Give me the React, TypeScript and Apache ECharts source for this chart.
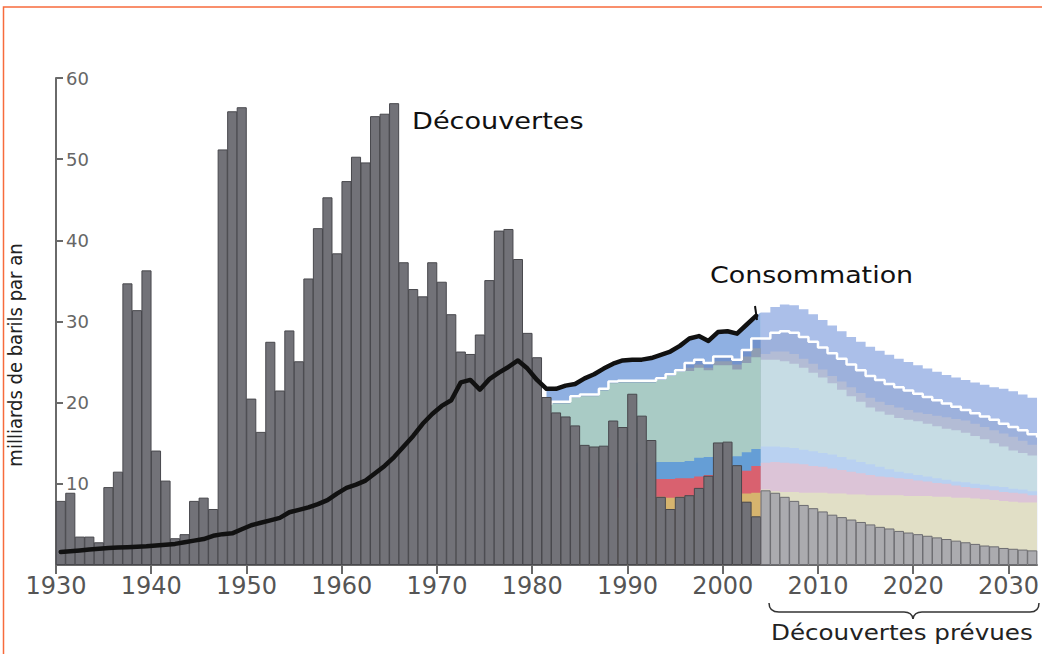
import React, { useEffect, useRef } from 'react';
import * as echarts from 'echarts';

// ---------- data ----------
const FIRST_YEAR = 1930;
// discoveries, billions of barrels per year, 1930-2003
const discoveries = [
  7.9, 8.9, 3.5, 3.5, 2.8, 9.6, 11.5, 34.7, 31.4, 36.3,
  14.1, 10.4, 3.3, 3.8, 7.9, 8.3, 6.9, 51.2, 55.9, 56.4,
  20.5, 16.4, 27.5, 21.5, 28.9, 25.1, 35.3, 41.5, 45.3, 38.4,
  47.3, 50.3, 49.6, 55.3, 55.6, 56.9, 37.3, 34.0, 33.1, 37.3,
  34.9, 30.9, 26.3, 26.0, 28.4, 35.1, 41.2, 41.4, 37.7, 28.6,
  25.6, 20.7, 18.8, 18.3, 17.2, 14.8, 14.6, 14.7, 17.8, 17.0,
  21.1, 18.4, 15.4, 8.4, 6.9, 8.4, 8.6, 9.5, 11.0, 15.1,
  15.2, 12.3, 7.8, 6.0,
];
const PROJ_FIRST_YEAR = 2004;
// expected discoveries 2004-2032
const projectedDiscoveries = [
  9.2, 8.9, 8.4, 7.9, 7.4, 7.0, 6.6, 6.2, 5.9, 5.6,
  5.3, 5.0, 4.7, 4.5, 4.2, 4.0, 3.8, 3.6, 3.4, 3.2,
  3.0, 2.8, 2.6, 2.4, 2.3, 2.1, 2.0, 1.9, 1.8,
];
// consumption 1930-2003
const consumption = [
  1.6, 1.7, 1.8, 1.9, 2.0, 2.1, 2.15, 2.2, 2.25, 2.3,
  2.4, 2.5, 2.6, 2.8, 3.0, 3.2, 3.6, 3.8, 3.9, 4.4,
  4.9, 5.2, 5.5, 5.8, 6.5, 6.8, 7.1, 7.5, 8.0, 8.8,
  9.5, 9.9, 10.4, 11.3, 12.2, 13.3, 14.6, 15.9, 17.4, 18.6,
  19.6, 20.3, 22.5, 22.8, 21.6, 22.9, 23.7, 24.4, 25.2, 24.2,
  22.8, 21.7, 21.7, 22.1, 22.3, 23.0, 23.5, 24.2, 24.8, 25.2,
  25.3, 25.3, 25.5, 25.9, 26.3, 27.0, 27.9, 28.2, 27.6, 28.7,
  28.8, 28.5, 29.6, 30.7,
];

// production layers (cumulative tops), 1981-2003
const LAYER_FIRST_YEAR = 1981;
const histWhite = [19.8, 20.1, 20.1, 20.8, 21.0, 21.0, 21.7, 22.6, 22.7, 22.7, 22.7, 22.7, 23.0, 23.5, 24.0, 24.9, 25.3, 24.9, 25.7, 25.7, 25.3, 26.5, 27.9];
const histGrayTop = [19.6, 19.9, 19.9, 20.6, 20.8, 20.8, 21.5, 22.4, 22.5, 22.5, 22.5, 22.5, 22.8, 23.3, 23.8, 24.3, 24.7, 24.3, 25.1, 25.1, 24.7, 25.7, 26.7];
const histTealTop = [19.6, 19.9, 19.9, 20.6, 20.8, 20.8, 21.5, 22.4, 22.5, 22.5, 22.5, 22.5, 22.8, 23.3, 23.8, 23.9, 24.3, 24.0, 24.6, 24.6, 24.1, 24.9, 25.6];
const histBlueTop = [12.6, 12.6, 12.6, 12.6, 12.6, 12.6, 12.6, 12.6, 12.6, 12.6, 12.6, 12.6, 12.7, 12.7, 12.7, 12.8, 13.2, 13.3, 13.3, 13.3, 13.4, 13.9, 14.3];
const histRedTop = [10.5, 10.5, 10.5, 10.5, 10.5, 10.5, 10.5, 10.5, 10.5, 10.5, 10.5, 10.5, 10.6, 10.6, 10.7, 10.7, 10.9, 11.1, 11.2, 11.3, 11.4, 11.6, 12.2];
const histYellowTop = [8.3, 8.3, 8.3, 8.3, 8.3, 8.3, 8.3, 8.3, 8.3, 8.3, 8.3, 8.3, 8.4, 8.3, 8.4, 8.5, 8.6, 8.7, 8.8, 8.9, 8.9, 8.8, 8.9];

// projected layers (cumulative tops), 2004-2033
const projTop = [31.1, 31.8, 32.1, 32.0, 31.5, 30.9, 30.2, 29.5, 28.8, 28.1, 27.5, 26.9, 26.4, 25.9, 25.4, 25.0, 24.6, 24.2, 23.8, 23.4, 23.1, 22.8, 22.5, 22.2, 21.9, 21.7, 21.4, 21.0, 20.6, 20.2];
const projWhite = [27.9, 28.6, 28.8, 28.6, 28.1, 27.5, 26.8, 26.1, 25.4, 24.7, 24.0, 23.3, 22.8, 22.3, 21.9, 21.5, 21.1, 20.7, 20.3, 19.9, 19.5, 19.1, 18.7, 18.3, 17.9, 17.4, 17.0, 16.6, 16.1, 15.7];
const projGrayTop = [26.0, 26.3, 26.3, 26.0, 25.4, 24.8, 24.1, 23.3, 22.6, 21.9, 21.2, 20.6, 20.1, 19.7, 19.4, 19.1, 18.8, 18.6, 18.4, 18.2, 18.0, 17.8, 17.4, 17.0, 16.6, 16.2, 15.8, 15.3, 14.8, 14.4];
const projTealTop = [25.3, 25.3, 25.1, 24.8, 24.3, 23.7, 23.1, 22.4, 21.6, 20.8, 20.1, 19.4, 18.9, 18.5, 18.1, 17.9, 17.7, 17.4, 17.1, 16.8, 16.6, 16.3, 15.9, 15.5, 15.0, 14.6, 14.1, 13.8, 13.5, 13.2];
const projBlueTop = [14.6, 14.6, 14.5, 14.4, 14.2, 14.0, 13.8, 13.6, 13.3, 13.0, 12.7, 12.4, 12.1, 11.8, 11.5, 11.3, 11.1, 10.9, 10.7, 10.5, 10.3, 10.2, 10.0, 9.9, 9.7, 9.6, 9.4, 9.3, 9.1, 9.0];
const projPinkTop = [12.6, 12.7, 12.6, 12.5, 12.4, 12.2, 12.1, 11.9, 11.7, 11.5, 11.3, 11.1, 10.9, 10.8, 10.7, 10.6, 10.4, 10.3, 10.1, 10.0, 9.8, 9.6, 9.5, 9.3, 9.2, 9.0, 8.9, 8.8, 8.6, 8.5];
const projKhakiTop = [9.3, 9.1, 9.0, 9.0, 8.9, 8.9, 8.9, 8.8, 8.8, 8.7, 8.7, 8.6, 8.6, 8.6, 8.6, 8.5, 8.5, 8.5, 8.4, 8.4, 8.3, 8.3, 8.2, 8.1, 8.0, 7.9, 7.8, 7.7, 7.7, 7.6];

const xTickYears = [1930, 1940, 1950, 1960, 1970, 1980, 1990, 2000, 2010, 2020, 2030];
const yTickValues = [10, 20, 30, 40, 50, 60];

// ---------- helpers ----------
const pts = (start: number, arr: number[], offset = 0) => arr.map((v, i) => [start + i + offset, v]);
const histPts = (arr: number[], next: number[]) => [...pts(LAYER_FIRST_YEAR, arr), [PROJ_FIRST_YEAR, next[0]]];

const area = (data: number[][], color: string, step: any = 'end') => ({
  type: 'line',
  data,
  step,
  symbol: 'none',
  silent: true,
  z: 1,
  lineStyle: { width: 0, opacity: 0 },
  areaStyle: { color, opacity: 1 },
  emphasis: { disabled: true },
});

const FONT = '"DejaVu Sans", sans-serif';

export default function App() {
  const ref = useRef<HTMLDivElement>(null);
  useEffect(() => {
    const chart = echarts.init(ref.current!, null, { renderer: 'svg' });
    const histTopData = [
      ...pts(FIRST_YEAR, consumption, 0.5).filter((p) => p[0] >= LAYER_FIRST_YEAR),
      [PROJ_FIRST_YEAR, projTop[0]],
    ];
    const barData = [
      ...discoveries.map((v, i) => ({
        value: [FIRST_YEAR + i + 0.5, v],
        itemStyle: { color: '#727278', borderColor: '#48484d', borderWidth: 1 },
      })),
      ...projectedDiscoveries.map((v, i) => ({
        value: [PROJ_FIRST_YEAR + i + 0.5, v],
        itemStyle: { color: '#ababaf', borderColor: '#6c6c71', borderWidth: 1 },
      })),
    ];
    const option: any = {
      animation: false,
      backgroundColor: '#ffffff',
      grid: { left: 56, right: 0, top: 78, bottom: 89, containLabel: false },
      xAxis: {
        type: 'value',
        min: 1930,
        max: 2033,
        interval: 10,
        splitLine: { show: false },
        axisLine: { show: true, lineStyle: { color: '#6a6a6a', width: 2 } },
        axisTick: { show: true, length: 9, customValues: xTickYears, lineStyle: { color: '#6a6a6a', width: 2 } },
        axisLabel: {
          customValues: xTickYears,
          color: '#555',
          fontSize: 24,
          fontFamily: FONT,
          margin: 9,
          formatter: (v: number) => String(v),
        },
      },
      yAxis: {
        type: 'value',
        min: 0,
        max: 60,
        interval: 10,
        splitLine: { show: false },
        axisLine: { show: true, lineStyle: { color: '#6a6a6a', width: 2 } },
        axisTick: { show: true, inside: true, length: 7, customValues: yTickValues, lineStyle: { color: '#6a6a6a', width: 2 } },
        axisLabel: {
          inside: true,
          customValues: yTickValues,
          margin: 10,
          color: '#666',
          fontSize: 18,
          fontFamily: FONT,
        },
      },
      series: [
        area(histTopData, '#8fb0e2', false),
        area(pts(PROJ_FIRST_YEAR, projTop), '#abbfe9'),
        area(histPts(histWhite, projWhite), '#7393cc'),
        area(pts(PROJ_FIRST_YEAR, projWhite), '#9db1dc'),
        area(histPts(histGrayTop, projGrayTop), '#8f9db3'),
        area(pts(PROJ_FIRST_YEAR, projGrayTop), '#b3bcd5'),
        area(histPts(histTealTop, projTealTop), '#a9cbc5'),
        area(pts(PROJ_FIRST_YEAR, projTealTop), '#c6dce4'),
        area(histPts(histBlueTop, projBlueTop), '#659ed6'),
        area(pts(PROJ_FIRST_YEAR, projBlueTop), '#b9d1f1'),
        area(histPts(histRedTop, projPinkTop), '#d9616f'),
        area(pts(PROJ_FIRST_YEAR, projPinkTop), '#dcc4d7'),
        area(histPts(histYellowTop, projKhakiTop), '#d6b46e'),
        area(pts(PROJ_FIRST_YEAR, projKhakiTop), '#e1dfc6'),
        {
          type: 'line',
          step: 'end',
          symbol: 'none',
          silent: true,
          z: 2,
          data: [...pts(LAYER_FIRST_YEAR, histWhite), ...pts(PROJ_FIRST_YEAR, projWhite)],
          lineStyle: { color: '#ffffff', width: 2.5 },
        },
        {
          type: 'bar',
          silent: true,
          z: 3,
          barWidth: '106%',
          barGap: '-100%',
          data: barData,
        },
        {
          type: 'line',
          symbol: 'none',
          silent: true,
          z: 4,
          data: pts(FIRST_YEAR, consumption, 0.5),
          lineStyle: { color: '#111', width: 4.5, join: 'round', cap: 'round' },
        },
      ],
      graphic: [
        {
          type: 'rect',
          silent: true,
          z: 100,
          shape: { x: 3.5, y: 7, width: 1100, height: 700 },
          style: { fill: 'none', stroke: '#f76b3c', lineWidth: 1.5 },
        },
        {
          type: 'text',
          x: 15,
          y: 355,
          rotation: Math.PI / 2,
          silent: true,
          style: {
            text: 'milliards de barils par an',
            fontSize: 20,
            fontFamily: '"DejaVu Sans Condensed", "DejaVu Sans", sans-serif',
            fill: '#222',
            align: 'center',
            verticalAlign: 'middle',
            textAlign: 'center',
            textVerticalAlign: 'middle',
          },
        },
        {
          type: 'text',
          x: 412,
          y: 121,
          scaleX: 1.18,
          silent: true,
          style: { text: 'Découvertes', fontSize: 23, fontFamily: FONT, fill: '#111', align: 'left', verticalAlign: 'middle', textAlign: 'left', textVerticalAlign: 'middle' },
        },
        {
          type: 'text',
          x: 710,
          y: 275,
          scaleX: 1.17,
          silent: true,
          style: { text: 'Consommation', fontSize: 23, fontFamily: FONT, fill: '#111', align: 'left', verticalAlign: 'middle', textAlign: 'left', textVerticalAlign: 'middle' },
        },
        {
          type: 'text',
          x: 771,
          y: 633,
          scaleX: 1.2,
          silent: true,
          style: { text: 'Découvertes prévues', fontSize: 20.5, fontFamily: FONT, fill: '#222', align: 'left', verticalAlign: 'middle', textAlign: 'left', textVerticalAlign: 'middle' },
        },
        { type: 'line', silent: true, z: 50, shape: { x1: 755, y1: 306, x2: 757, y2: 320 }, style: { stroke: '#111', lineWidth: 2 } },
        { type: 'bezierCurve', silent: true, shape: { x1: 769, y1: 603, cpx1: 769, cpy1: 612, x2: 779, y2: 612 }, style: { stroke: '#333', lineWidth: 1.5, fill: 'none' } },
        { type: 'line', silent: true, shape: { x1: 779, y1: 612, x2: 904, y2: 612 }, style: { stroke: '#333', lineWidth: 1.5 } },
        { type: 'bezierCurve', silent: true, shape: { x1: 904, y1: 612, cpx1: 912, cpy1: 612, x2: 913, y2: 619 }, style: { stroke: '#333', lineWidth: 1.5, fill: 'none' } },
        { type: 'bezierCurve', silent: true, shape: { x1: 913, y1: 619, cpx1: 914, cpy1: 612, x2: 922, y2: 612 }, style: { stroke: '#333', lineWidth: 1.5, fill: 'none' } },
        { type: 'line', silent: true, shape: { x1: 922, y1: 612, x2: 1030, y2: 612 }, style: { stroke: '#333', lineWidth: 1.5 } },
        { type: 'bezierCurve', silent: true, shape: { x1: 1030, y1: 612, cpx1: 1039, cpy1: 612, x2: 1039, y2: 603 }, style: { stroke: '#333', lineWidth: 1.5, fill: 'none' } },
      ],
    };
    chart.setOption(option);
    return () => chart.dispose();
  }, []);
  return (
    <div
      ref={ref}
      style={{ position: 'fixed', left: 0, top: 0, width: 1042, height: 654, background: '#fff' }}
    />
  );
}
